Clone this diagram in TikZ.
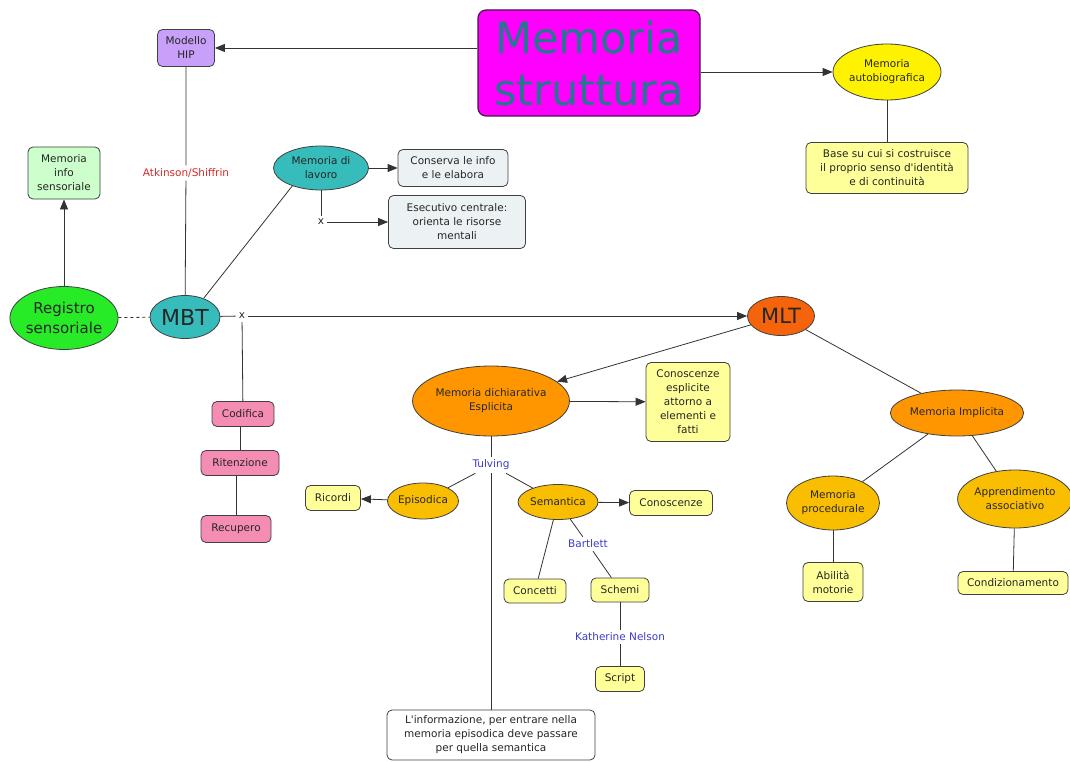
\documentclass[tikz,border=0pt]{standalone}
\usepackage{fontspec}
\setmainfont{DejaVu Sans}
\usetikzlibrary{shapes,arrows.meta,positioning}

\definecolor{titlefill}{RGB}{255,0,255}
\definecolor{titletext}{RGB}{36,118,145}
\definecolor{titleline}{RGB}{70,20,70}
\definecolor{hipfill}{RGB}{200,160,250}
\definecolor{tealfill}{RGB}{55,188,188}
\definecolor{greenfill}{RGB}{40,235,40}
\definecolor{palegreen}{RGB}{204,255,204}
\definecolor{paleblue}{RGB}{236,242,244}
\definecolor{pinkfill}{RGB}{245,140,180}
\definecolor{mltfill}{RGB}{245,100,10}
\definecolor{orangefill}{RGB}{255,150,0}
\definecolor{amberfill}{RGB}{250,190,0}
\definecolor{paleyellow}{RGB}{255,255,153}
\definecolor{redtext}{RGB}{215,40,40}
\definecolor{bluetext}{RGB}{60,60,200}

\begin{document}
\begin{tikzpicture}[x=1pt,y=-1pt,
  every node/.style={font=\fontsize{10.5}{14}\selectfont, text=black!85},
  box/.style={draw=black!75, line width=0.8pt, rounded corners=5pt, align=center, inner sep=2pt},
  oval/.style={ellipse, draw=black!75, line width=0.8pt, align=center, inner sep=0pt},
  lbl/.style={inner sep=3pt},
  link/.style={draw=black!80, line width=0.8pt},
  >={Triangle[length=10pt,width=8pt]}]
\useasboundingbox (0,0) rectangle (1070,762);

\node[box, fill=titlefill, draw=titleline, line width=1.2pt, rounded corners=8pt, minimum width=222pt, minimum height=106pt, text=titletext, font=\fontsize{43}{52}\selectfont] (title) at (589,63) {Memoria\\struttura};
\node[box, fill=hipfill, minimum width=57pt, minimum height=37pt] (hip) at (186,48) {Modello\\HIP};
\node[oval, fill=yellow, minimum width=108pt, minimum height=56pt] (autobio) at (887,72) {Memoria\\autobiografica};
\node[box, fill=paleyellow, minimum width=162pt, minimum height=51pt] (identita) at (887,168) {Base su cui si costruisce\\il proprio senso d\textquotesingle identità\\e di continuità};

\node[box, fill=palegreen, minimum width=72pt, minimum height=52pt] (infosens) at (64,173) {Memoria\\info\\sensoriale};
\node[oval, fill=greenfill, minimum width=105pt, minimum height=63pt, font=\fontsize{15}{20}\selectfont] (registro) at (64,318) {Registro\\sensoriale};
\node[oval, fill=tealfill, minimum width=70pt, minimum height=43pt, font=\fontsize{22}{26}\selectfont] (mbt) at (185,317) {MBT};
\node[lbl, text=redtext] (atkinson) at (186,173) {Atkinson/Shiffrin};

\node[oval, fill=tealfill, minimum width=95pt, minimum height=44pt] (lavoro) at (321,168) {Memoria di\\lavoro};
\node[box, fill=paleblue, minimum width=110pt, minimum height=37pt] (conserva) at (453,168) {Conserva le info\\e le elabora};
\node[lbl] (xlav) at (321,222) {x};
\node[box, fill=paleblue, minimum width=137pt, minimum height=53pt] (esecutivo) at (457,222) {Esecutivo centrale:\\orienta le risorse\\mentali};

\node[lbl] (xmbt) at (242,316) {x};
\node[box, fill=pinkfill, minimum width=62pt, minimum height=25pt] (codifica) at (243,414) {Codifica};
\node[box, fill=pinkfill, minimum width=78pt, minimum height=25pt] (ritenzione) at (240,463) {Ritenzione};
\node[box, fill=pinkfill, minimum width=70pt, minimum height=27pt] (recupero) at (236,529) {Recupero};

\node[oval, fill=mltfill, minimum width=67pt, minimum height=39pt, font=\fontsize{21}{26}\selectfont] (mlt) at (781,316) {MLT};
\node[oval, fill=orangefill, minimum width=145pt, minimum height=70pt] (dichiarativa) at (491,401) {Memoria dichiarativa\\Esplicita};
\node[box, fill=paleyellow, minimum width=84pt, minimum height=79pt] (esplicite) at (688,402) {Conoscenze\\esplicite\\attorno a\\elementi e\\fatti};
\node[oval, fill=orangefill, minimum width=121pt, minimum height=46pt] (implicita) at (957,413) {Memoria Implicita};
\node[oval, fill=amberfill, minimum width=93pt, minimum height=54pt] (procedurale) at (833,503) {Memoria\\procedurale};
\node[oval, fill=amberfill, minimum width=107pt, minimum height=58pt] (associativo) at (1015,499) {Apprendimento\\associativo};
\node[box, fill=paleyellow, minimum width=60pt, minimum height=39pt] (abilita) at (833,582) {Abilità\\motorie};
\node[box, fill=paleyellow, minimum width=110pt, minimum height=23pt] (condiz) at (1013,583) {Condizionamento};

\node[lbl, text=bluetext] (tulving) at (491,465) {Tulving};
\node[oval, fill=amberfill, minimum width=71pt, minimum height=36pt] (episodica) at (423,501) {Episodica};
\node[oval, fill=amberfill, minimum width=80pt, minimum height=35pt] (semantica) at (558,502) {Semantica};
\node[box, fill=paleyellow, minimum width=55pt, minimum height=25pt] (ricordi) at (333,498) {Ricordi};
\node[box, fill=paleyellow, minimum width=83pt, minimum height=25pt] (conoscenze) at (671,503) {Conoscenze};
\node[box, fill=paleyellow, minimum width=62pt, minimum height=24pt] (concetti) at (535,591) {Concetti};
\node[lbl, text=bluetext] (bartlett) at (588,544) {Bartlett};
\node[box, fill=paleyellow, minimum width=58pt, minimum height=24pt] (schemi) at (620,590) {Schemi};
\node[lbl, text=bluetext] (nelson) at (620,637) {Katherine Nelson};
\node[box, fill=paleyellow, minimum width=49pt, minimum height=25pt] (script) at (620,679) {Script};
\node[box, fill=white, minimum width=208pt, minimum height=50pt] (informazione) at (491,735) {L\textquotesingle informazione, per entrare nella\\memoria episodica deve passare\\per quella semantica};

\draw[link,->] (title.west |- hip) -- (hip);
\draw[link,->] (title.east |- autobio) -- (autobio);
\draw[link] (autobio) -- (identita);
\draw[link,->] (registro) -- (infosens);
\draw[link,dashed] (registro) -- (mbt);
\draw[link] (mbt) -- (atkinson) -- (hip);
\draw[link] (mbt.45) -- (lavoro.212);
\draw[link,->] (lavoro) -- (conserva);
\draw[link] (lavoro) -- (xlav);
\draw[link,->] (xlav) -- (esecutivo);
\draw[link] (mbt) -- (xmbt);
\draw[link,->] (xmbt) -- (mlt);
\draw[link] (xmbt) -- (codifica);
\draw[link] (codifica.south -| ritenzione) -- (ritenzione);
\draw[link] (ritenzione.south -| recupero) -- (recupero);

\draw[link,->] (mlt) -- (dichiarativa);
\draw[link,->] (dichiarativa) -- (esplicite);
\foreach \a/\b in {mlt/implicita, implicita/procedurale, implicita/associativo, procedurale/abilita, associativo/condiz,
  dichiarativa/tulving, tulving/episodica, tulving/semantica, tulving/informazione,
  semantica/concetti, semantica/bartlett, bartlett/schemi, schemi/nelson, nelson/script}
  \draw[link] (\a) -- (\b);
\draw[link,->] (episodica) -- (ricordi);
\draw[link,->] (semantica) -- (conoscenze);
\end{tikzpicture}
\end{document}
